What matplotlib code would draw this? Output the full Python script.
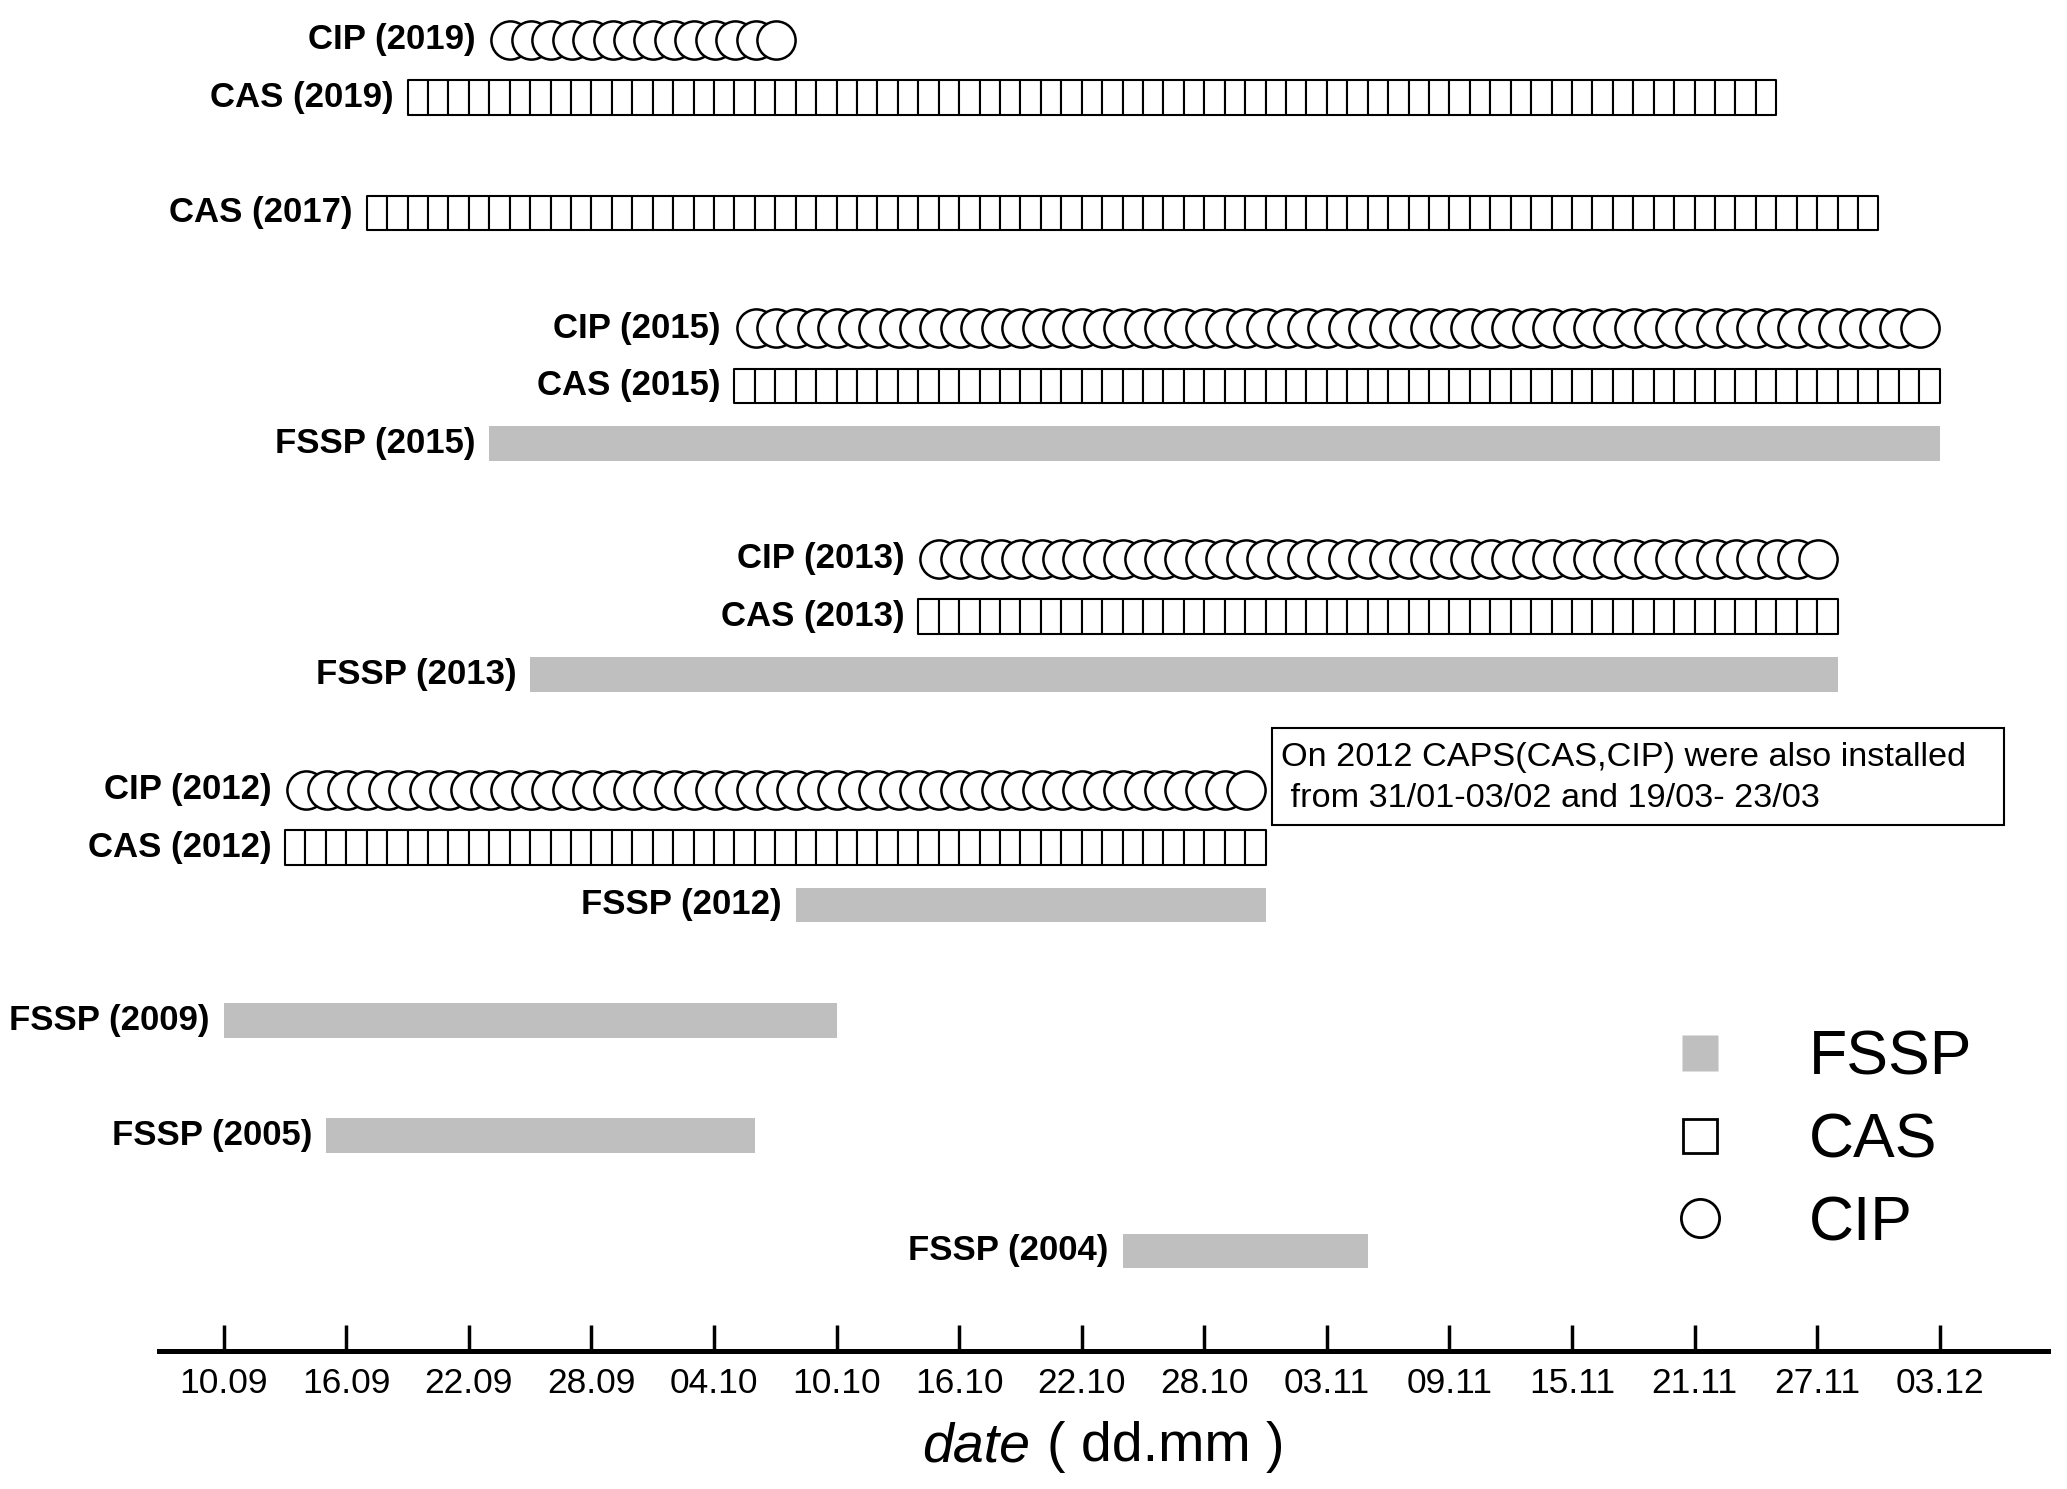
import matplotlib
matplotlib.use("Agg")
import matplotlib.pyplot as plt
import numpy as np
from datetime import date
from matplotlib.lines import Line2D
from matplotlib.patches import Rectangle

plt.rcParams['font.family'] = ['Liberation Sans', 'DejaVu Sans']

# campaign periods (dd.mm, first and last day)
fssp_years = [2015, 2013, 2012, 2009, 2005, 2004]
fssp_start = ['23.09', '25.09', '08.10', '10.09', '15.09', '24.10']
fssp_end = ['02.12', '27.11', '30.10', '09.10', '05.10', '04.11']

cas_years = [2019, 2017, 2015, 2013, 2012]
cas_start = ['19.09', '17.09', '05.10', '14.10', '13.09']
cas_end = ['24.11', '29.11', '02.12', '27.11', '30.10']

cip_years = [2019, 2015, 2013, 2012]
cip_start = ['23.09', '05.10', '14.10', '13.09']
cip_end = ['06.10', '01.12', '26.11', '29.10']

tick_labels = ['10.09', '16.09', '22.09', '28.09', '04.10', '10.10', '16.10',
               '22.10', '28.10', '03.11', '09.11', '15.11', '21.11', '27.11', '03.12']

note = "On 2012 CAPS(CAS,CIP) were also installed\n from 31/01-03/02 and 19/03- 23/03"

# vertical slot of every row
row_y = {('FSSP', 2004): 1, ('FSSP', 2005): 3, ('FSSP', 2009): 5,
         ('FSSP', 2012): 7, ('CAS', 2012): 8, ('CIP', 2012): 9,
         ('FSSP', 2013): 11, ('CAS', 2013): 12, ('CIP', 2013): 13,
         ('FSSP', 2015): 15, ('CAS', 2015): 16, ('CIP', 2015): 17,
         ('CAS', 2017): 19, ('CAS', 2019): 21, ('CIP', 2019): 22}

ORIGIN = date(2001, 9, 10)


def day(s):
    d, m = map(int, s.split('.'))
    return (date(2001, m, d) - ORIGIN).days


GRAY = '#bfbfbf'
H = 0.6

fig = plt.figure(figsize=(20.67, 14.89), dpi=100)
ax = fig.add_axes([159 / 2067, 0.0926, (2048 - 159) / 2067, 0.9074])


def row_label(name, year, x0, y):
    ax.annotate(f"{name} ({year})", xy=(x0, y), xytext=(-10, 0),
                textcoords='offset points', ha='right', va='center',
                fontsize=25, fontweight='bold')


for yr, s, e in zip(fssp_years, fssp_start, fssp_end):
    y = row_y[('FSSP', yr)]
    a, b = day(s), day(e)
    ax.barh(y, b - a + 1, left=a, height=H, color=GRAY, linewidth=0)
    row_label('FSSP', yr, a, y)

for yr, s, e in zip(cas_years, cas_start, cas_end):
    y = row_y[('CAS', yr)]
    a, b = day(s), day(e)
    ax.broken_barh([(d, 1) for d in range(a, b + 1)], (y - H / 2, H),
                   facecolors='white', edgecolors='black', linewidth=1.5)
    row_label('CAS', yr, a, y)

for yr, s, e in zip(cip_years, cip_start, cip_end):
    y = row_y[('CIP', yr)]
    a, b = day(s), day(e)
    days = np.arange(a, b + 1)
    ax.scatter(days + 1.03, np.full(len(days), y), s=27.5 ** 2, marker='o',
               facecolors='white', edgecolors='black', linewidths=1.8, zorder=3)
    row_label('CIP', yr, a, y)

ax.set_xlim(-3.17, 89.3)
ax.set_ylim(-0.737, 22.69)
for side in ['left', 'top', 'right']:
    ax.spines[side].set_visible(False)
ax.spines['bottom'].set_linewidth(3.6)
ax.set_yticks([])
ax.set_xticks([day(t) for t in tick_labels])
ax.set_xticklabels(tick_labels)
ax.tick_params(axis='x', direction='in', length=19, width=2.5, pad=11.5, labelsize=25.5)

fig.text(1030 / 2067, 1 - 1461 / 1489, "date", ha='right', va='baseline',
         fontsize=40, style='italic')
fig.text(1047 / 2067, 1 - 1461 / 1489, "( dd.mm )", ha='left', va='baseline',
         fontsize=40)

# note box
fig.patches.append(Rectangle((1272 / 2067, 1 - 825 / 1489), (2004 - 1272) / 2067,
                             (825 - 728) / 1489, transform=fig.transFigure,
                             facecolor='white', edgecolor='black', linewidth=1.5))
fig.text(1281 / 2067, 1 - 778 / 1489, note, ha='left', va='center',
         fontsize=24.7, linespacing=1.4)

handles = [
    Line2D([], [], ls='none', marker='s', markersize=26, markerfacecolor=GRAY,
           markeredgecolor='none'),
    Line2D([], [], ls='none', marker='s', markersize=24, markerfacecolor='white',
           markeredgecolor='black', markeredgewidth=2),
    Line2D([], [], ls='none', marker='o', markersize=27.5, markerfacecolor='white',
           markeredgecolor='black', markeredgewidth=2),
]
ax.legend(handles, ['FSSP', 'CAS', 'CIP'], loc='center left',
          bbox_to_anchor=(1669 / 2067, 1 - 1141 / 1489), bbox_transform=fig.transFigure,
          frameon=False, fontsize=45, handlelength=1.0, handletextpad=1.23,
          labelspacing=0.38, borderpad=0, borderaxespad=0)

fig.savefig('out.png', dpi=100)
